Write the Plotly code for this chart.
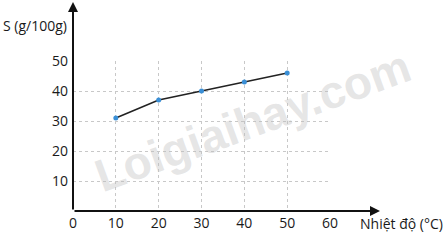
import plotly.graph_objects as go

temperature = [10, 20, 30, 40, 50]
solubility = [31, 37, 40, 43, 46]
x_ticks = [0, 10, 20, 30, 40, 50, 60]
y_ticks = [10, 20, 30, 40, 50]

W, H = 448, 249
L, R, T, B = 73, 118, 61, 38
pw, ph = W - L - R, H - T - B

def px_x(p):
    return (p - L) / pw

def px_y(p):
    return (H - B - p) / ph

font = "Open Sans, Noto Sans, sans-serif"

fig = go.Figure()
fig.add_trace(go.Scatter(
    x=temperature, y=solubility, mode="lines+markers",
    line=dict(color="#222222", width=1.6),
    marker=dict(color="#3a8fd6", size=5),
    cliponaxis=False, showlegend=False,
))

annotations = [
    # watermark
    dict(text="<b>Loigiaihay.com</b>", x=px_x(252), y=px_y(121), xref="paper", yref="paper",
         xanchor="center", yanchor="middle",
         showarrow=False, textangle=-20,
         font=dict(family="Liberation Sans, Arial, sans-serif", size=46, color="rgba(190,190,190,0.4)")),
    # x axis arrow
    dict(x=px_x(380), y=0, xref="paper", yref="paper", ax=-(380 - L), ay=0,
         showarrow=True, arrowhead=2, arrowsize=1, arrowwidth=2, arrowcolor="#111111", text=""),
    # y axis arrow
    dict(x=0, y=px_y(2), xref="paper", yref="paper", ax=0, ay=(H - B - 2),
         showarrow=True, arrowhead=2, arrowsize=1, arrowwidth=2, arrowcolor="#111111", text=""),
    dict(text="S (g/100g)", x=px_x(69), y=px_y(26), xref="paper", yref="paper",
         xanchor="right", yanchor="middle", showarrow=False,
         font=dict(family=font, size=14, color="#1a1a1a")),
    dict(text="Nhiệt độ (°C)", x=px_x(358), y=px_y(223), xref="paper", yref="paper",
         xanchor="left", yanchor="middle", showarrow=False,
         font=dict(family=font, size=14, color="#1a1a1a")),
]

fig.update_layout(
    width=W, height=H,
    margin=dict(l=L, r=R, t=T, b=B),
    paper_bgcolor="white", plot_bgcolor="white",
    annotations=annotations,
    xaxis=dict(range=[0, 60], tickvals=x_ticks, ticktext=[str(v) for v in x_ticks],
               showgrid=True, gridcolor="#c8c8c8", griddash="dot", gridwidth=1,
               zeroline=False, showline=False, ticks="", ticklabelstandoff=2,
               tickfont=dict(family=font, size=14, color="#1a1a1a"), fixedrange=True),
    yaxis=dict(range=[0, 50], tickvals=y_ticks, ticktext=[str(v) for v in y_ticks],
               showgrid=True, gridcolor="#c8c8c8", griddash="dot", gridwidth=1,
               zeroline=False, showline=False, ticks="", ticklabelstandoff=4,
               tickfont=dict(family=font, size=14, color="#1a1a1a"), fixedrange=True),
)

fig.write_html("out.html")
